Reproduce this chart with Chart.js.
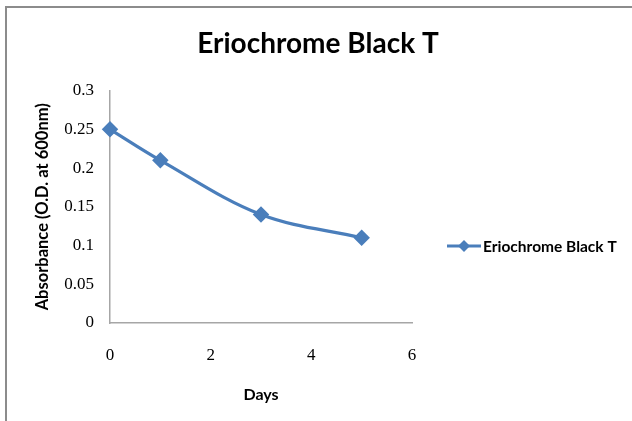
<!DOCTYPE html>
<html>
<head>
<meta charset="utf-8">
<script src="https://cdn.jsdelivr.net/npm/chart.js@4"></script>
<style>
  html, body { margin:0; padding:0; background:#fff; }
  body { width:632px; height:421px; position:relative; overflow:hidden; }
  #frame { position:absolute; left:5px; top:6px; width:700px; height:500px;
           border-left:2px solid #8c8c8c; border-top:2px solid #8c8c8c; }
  #wrap { position:absolute; left:0; top:0; width:632px; height:421px; }
</style>
</head>
<body>
<div id="frame"></div>
<div id="wrap"><canvas id="c" width="632" height="421"></canvas></div>
<script>
/********************
 * Data
 ********************/
const days = [0, 1, 3, 5];
const absorbance = [0.25, 0.21, 0.14, 0.11];
const seriesName = "Eriochrome Black T";
const chartTitle = "Eriochrome Black T";
const xTitle = "Days";
const yTitle = "Absorbance (O.D. at 600nm)";

const BLUE = "#4a7ebb";
const SANS = "Lato, 'Open Sans', sans-serif";
const SERIF = "'Liberation Serif', serif";

function fmtTick(v){
  return String(Number(v.toFixed(2)));
}

/********************
 * Legend (Excel style: line + diamond, right side)
 ********************/
const sideLegend = {
  id: "sideLegend",
  afterDraw(chart){
    const { ctx, chartArea } = chart;
    const ds = chart.data.datasets[0];
    const x0 = chartArea.right + 35;
    const y = 246;
    ctx.save();
    ctx.strokeStyle = ds.borderColor;
    ctx.lineWidth = 3;
    ctx.beginPath(); ctx.moveTo(x0, y); ctx.lineTo(x0 + 34, y); ctx.stroke();
    ctx.fillStyle = ds.backgroundColor;
    const cx = x0 + 17, r = 6;
    ctx.beginPath();
    ctx.moveTo(cx, y - r); ctx.lineTo(cx + r, y); ctx.lineTo(cx, y + r); ctx.lineTo(cx - r, y);
    ctx.closePath(); ctx.fill();
    ctx.fillStyle = "#000";
    ctx.font = "bold 15.5px " + SANS;
    ctx.textAlign = "left";
    ctx.textBaseline = "middle";
    ctx.fillText(ds.label, x0 + 36, y + 1);
    ctx.restore();
  }
};

new Chart(document.getElementById("c").getContext("2d"), {
  type: "scatter",
  data: {
    datasets: [{
      label: seriesName,
      data: days.map((d, i) => ({ x: d, y: absorbance[i] })),
      showLine: true,
      borderColor: BLUE,
      backgroundColor: BLUE,
      borderWidth: 3.2,
      tension: 0.35,
      pointStyle: "rectRot",
      pointRadius: 6,
      pointHoverRadius: 6,
      clip: false
    }]
  },
  plugins: [sideLegend],
  options: {
    responsive: false,
    animation: false,
    layout: { padding: { left: 33, right: 29, top: 10, bottom: 17 } },
    plugins: {
      title: {
        display: true,
        text: chartTitle,
        color: "#000",
        font: { family: SANS, size: 28, weight: "bold" },
        padding: { top: 17, bottom: 30 }
      },
      legend: { display: false },
      tooltip: { enabled: false }
    },
    scales: {
      x: {
        type: "linear",
        min: 0, max: 6,
        afterFit(s){ s.height = 81; },
        ticks: { stepSize: 2, color: "#000", padding: 22, maxRotation: 0,
                 font: { family: SERIF, size: 17 }, callback: fmtTick },
        grid: { display: false, drawTicks: false },
        border: { color: "#a6a6a6", width: 1.5 },
        title: { display: true, text: xTitle, color: "#000", padding: 0,
                 font: { family: SANS, size: 16, weight: "bold" } }
      },
      y: {
        min: 0, max: 0.3,
        afterFit(s){ s.width = 77; },
        ticks: { stepSize: 0.05, color: "#000", padding: 16,
                 font: { family: SERIF, size: 17 }, callback: fmtTick },
        grid: { display: false, drawTicks: false },
        border: { color: "#a6a6a6", width: 1.5 },
        title: { display: true, text: yTitle, color: "#000", padding: 0,
                 font: { family: SANS, size: 16.5, weight: "bold" } }
      },
      // empty right-hand box: reserves the legend column so the title centres on the whole chart
      legendSpace: {
        position: "right",
        min: 0, max: 1,
        afterFit(s){ s.width = 191; },
        ticks: { display: false },
        grid: { display: false, drawTicks: false },
        border: { display: false }
      }
    }
  }
});
</script>
</body>
</html>
